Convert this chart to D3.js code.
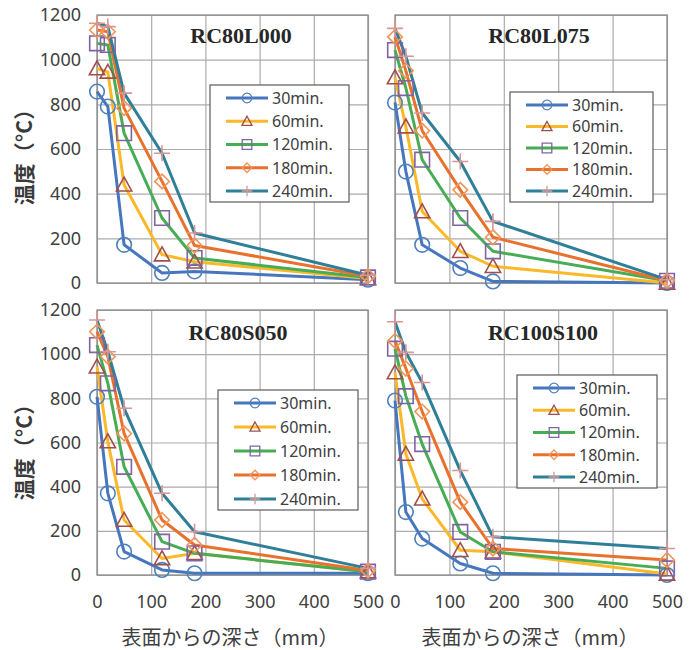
<!DOCTYPE html>
<html><head><meta charset="utf-8">
<script src="https://cdn.jsdelivr.net/npm/d3@7"></script>
<style>
html,body{margin:0;padding:0;background:#fff;}
svg{display:block;}
</style></head>
<body>
<svg id="c" width="699" height="650"></svg>
<script>
// ---- data ----
const depths = [0, 20, 50, 120, 180, 500];
const seriesNames = ["30min.", "60min.", "120min.", "180min.", "240min."];
const xTicks = [0, 100, 200, 300, 400, 500];
const yTicks = [0, 200, 400, 600, 800, 1000, 1200];
const panelTitles = ["RC80L000", "RC80L075", "RC80S050", "RC100S100"];
const RC80L000 = [
  [857, 790, 171, 45, 52, 15],
  [960, 945, 440, 127, 95, 20],
  [1073, 1066, 671, 291, 112, 25],
  [1133, 1125, 783, 455, 168, 30],
  [1163, 1148, 850, 581, 224, 35]
];
const RC80L075 = [
  [808, 499, 171, 67, 7, 0],
  [920, 700, 320, 142, 75, 0],
  [1043, 873, 552, 291, 142, 10],
  [1102, 950, 682, 417, 205, 10],
  [1140, 1015, 761, 544, 276, 15]
];
const RC80S050 = [
  [807, 370, 106, 23, 8, 8],
  [943, 604, 249, 75, 98, 15],
  [1041, 868, 490, 151, 98, 15],
  [1102, 989, 641, 249, 136, 20],
  [1155, 1011, 755, 370, 196, 30]
];
const RC100S100 = [
  [790, 285, 165, 52, 8, 0],
  [917, 548, 345, 112, 105, 5],
  [1025, 810, 593, 195, 105, 30],
  [1060, 935, 740, 330, 120, 68],
  [1147, 1008, 872, 473, 173, 120]
];
const panelData = [RC80L000, RC80L075, RC80S050, RC100S100];

// ---- styles / layout ----
const lineColors = ["#4677BE", "#FBB828", "#47AD55", "#E8722D", "#2F7F98"];
const markerColors = ["#4F81BD", "#A04F4D", "#8064A2", "#F0955A", "#D99694"];
const markerTypes = ["circle", "triangle", "square", "diamond", "plus"];
const layout = [
  {x0: 97, x1: 368, y0: 15, y1: 283, yLabels: true, xLabels: false, tx: 241, ty: 43, lx: 210, ly: 85, lw: 139, lh: 117},
  {x0: 395, x1: 667, y0: 15, y1: 283, yLabels: false, xLabels: false, tx: 539, ty: 43, lx: 510, ly: 92, lw: 143, lh: 110},
  {x0: 97, x1: 368, y0: 310, y1: 575, yLabels: true, xLabels: true, tx: 238, ty: 340, lx: 218, ly: 390, lw: 140, lh: 120},
  {x0: 395, x1: 667, y0: 310, y1: 575, yLabels: false, xLabels: true, tx: 543, ty: 340, lx: 517, ly: 375, lw: 140, lh: 113}
];

const svg = d3.select("#c");
const txtColor = "#404040";
const sansFont = "'Noto Sans', 'Open Sans', sans-serif";
const cjkFont = "'Noto Sans CJK JP', 'Noto Sans', sans-serif";

function markerPath(type, s) {
  const p = d3.path();
  if (type === "circle") { p.moveTo(s, 0); p.arc(0, 0, s, 0, 2 * Math.PI); }
  else if (type === "triangle") { p.moveTo(0, -s * 1.05); p.lineTo(s * 1.05, s * 0.85); p.lineTo(-s * 1.05, s * 0.85); p.closePath(); }
  else if (type === "square") { p.rect(-s, -s, 2 * s, 2 * s); }
  else if (type === "diamond") { p.moveTo(0, -s); p.lineTo(s, 0); p.lineTo(0, s); p.lineTo(-s, 0); p.closePath(); }
  else if (type === "plus") { const t = s * 1.1; p.moveTo(-t, 0); p.lineTo(t, 0); p.moveTo(0, -t); p.lineTo(0, t); }
  return p.toString();
}

panelData.forEach((data, pi) => {
  const L = layout[pi];
  const x = d3.scaleLinear().domain([0, 500]).range([L.x0, L.x1]);
  const y = d3.scaleLinear().domain([0, 1200]).range([L.y1, L.y0]);
  const g = svg.append("g");

  // grid
  g.append("g").attr("transform", `translate(0,${L.y1})`)
    .call(d3.axisBottom(x).tickValues(xTicks).tickSize(-(L.y1 - L.y0)).tickFormat(""))
    .call(a => a.select(".domain").remove())
    .call(a => a.selectAll("line").attr("stroke", "#ababab").attr("stroke-width", 1.2));
  g.append("g").attr("transform", `translate(${L.x0},0)`)
    .call(d3.axisLeft(y).tickValues(yTicks).tickSize(-(L.x1 - L.x0)).tickFormat(""))
    .call(a => a.select(".domain").remove())
    .call(a => a.selectAll("line").attr("stroke", "#ababab").attr("stroke-width", 1.2));
  g.append("rect").attr("x", L.x0).attr("y", L.y0).attr("width", L.x1 - L.x0).attr("height", L.y1 - L.y0)
    .attr("fill", "none").attr("stroke", "#8a8a8a").attr("stroke-width", 1.3);

  // tick labels
  if (L.yLabels) {
    g.append("g").attr("transform", `translate(${L.x0},0)`)
      .call(d3.axisLeft(y).tickValues(yTicks).tickSize(0).tickPadding(16).tickFormat(d3.format("d")))
      .call(a => a.select(".domain").remove())
      .call(a => a.selectAll("text").attr("font-family", sansFont).attr("font-size", 18).attr("fill", txtColor));
  }
  if (L.xLabels) {
    g.append("g").attr("transform", `translate(0,${L.y1})`)
      .call(d3.axisBottom(x).tickValues(xTicks).tickSize(0).tickPadding(20).tickFormat(d3.format("d")))
      .call(a => a.select(".domain").remove())
      .call(a => a.selectAll("text").attr("font-family", sansFont).attr("font-size", 18).attr("fill", txtColor));
  }

  // series
  const line = d3.line().x((d, i) => x(depths[i])).y(d => y(d));
  data.forEach((vals, si) => {
    g.append("path").attr("d", line(vals)).attr("fill", "none")
      .attr("stroke", lineColors[si]).attr("stroke-width", 3).attr("stroke-linejoin", "round");
  });
  data.forEach((vals, si) => {
    g.selectAll(null).data(vals).join("path")
      .attr("transform", (d, i) => `translate(${x(depths[i])},${y(d)})`)
      .attr("d", markerPath(markerTypes[si], 7.3))
      .attr("fill", "none").attr("stroke", markerColors[si]).attr("stroke-width", 1.6);
  });

  // title
  g.append("text").attr("x", L.tx).attr("y", L.ty).attr("text-anchor", "middle")
    .attr("font-family", "'Liberation Serif', 'Times New Roman', serif").attr("font-weight", "bold")
    .attr("font-size", 22).attr("fill", "#262626").text(panelTitles[pi]);

  // legend
  const lg = g.append("g").attr("transform", `translate(${L.lx},${L.ly})`);
  lg.append("rect").attr("width", L.lw).attr("height", L.lh).attr("fill", "#fff")
    .attr("stroke", "#5a5a5a").attr("stroke-width", 1.2);
  const step = (L.lh - 24) / 4;
  seriesNames.forEach((nm, si) => {
    const yy = 13 + si * step;
    lg.append("line").attr("x1", 16).attr("x2", 58).attr("y1", yy).attr("y2", yy)
      .attr("stroke", lineColors[si]).attr("stroke-width", 3);
    lg.append("path").attr("transform", `translate(37,${yy})`).attr("d", markerPath(markerTypes[si], 4.8))
      .attr("fill", "none").attr("stroke", markerColors[si]).attr("stroke-width", 1.3);
    lg.append("text").attr("x", 62).attr("y", yy).attr("dy", "0.36em")
      .attr("font-family", sansFont).attr("font-size", 16).attr("fill", txtColor).text(nm);
  });
});

// axis titles
[152, 447].forEach(cy => {
  svg.append("text").attr("transform", `translate(25,${cy}) rotate(-90)`).attr("text-anchor", "middle")
    .attr("dy", "0.35em").attr("font-family", cjkFont).attr("font-size", 21).attr("font-weight", "bold")
    .attr("fill", "#3a3a3a").text("温度（°C）");
});
[230, 530].forEach(cx => {
  svg.append("text").attr("x", cx).attr("y", 638).attr("text-anchor", "middle").attr("dy", "0.35em")
    .attr("font-family", cjkFont).attr("font-size", 20).attr("fill", txtColor)
    .text("表面からの深さ（mm）");
});
</script>
</body></html>
